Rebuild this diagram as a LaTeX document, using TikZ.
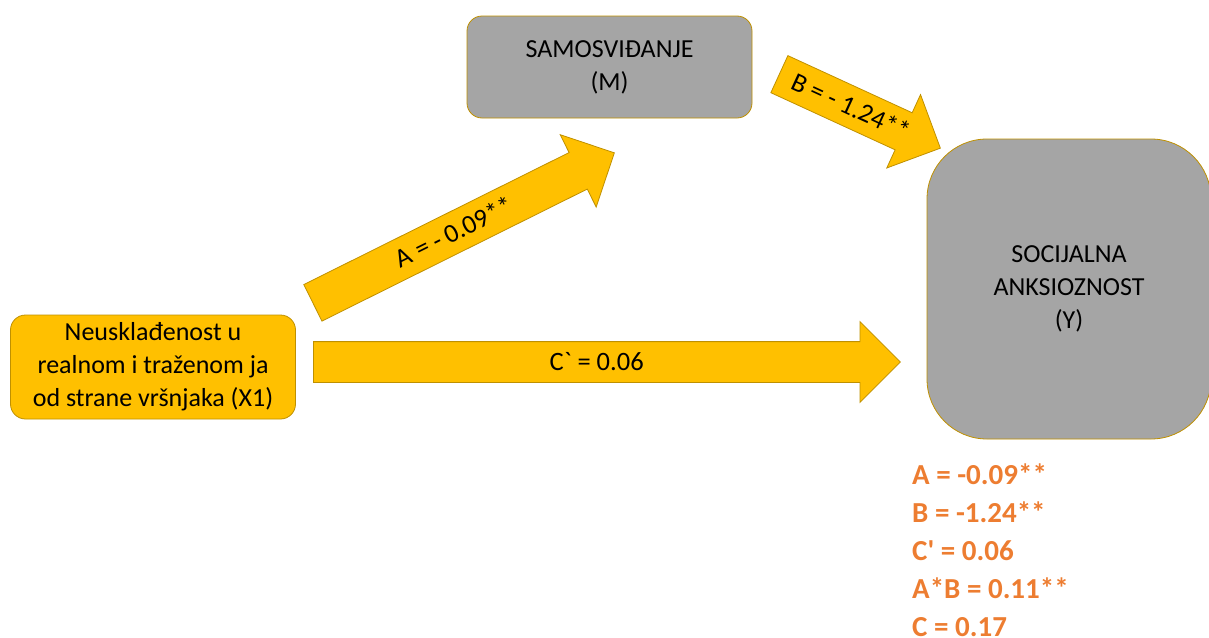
\documentclass[tikz,border=0pt]{standalone}
\usepackage{fontspec}
\setmainfont{Carlito}
\usepackage{xcolor}
\usetikzlibrary{shapes.arrows,calc}

\definecolor{boxgold}{HTML}{FFC000}
\definecolor{edgegold}{HTML}{BF9000}
\definecolor{boxgray}{HTML}{A5A5A5}
\definecolor{noteorange}{HTML}{ED7D31}

\tikzset{
  varbox/.style={draw=edgegold, line width=0.8pt, rounded corners=15pt, align=center,
    inner sep=0pt, font=\fontsize{26}{33}\selectfont},
  fatarrow/.style={single arrow, draw=edgegold, fill=boxgold, line width=0.8pt,
    single arrow head extend=20pt, inner xsep=0pt, inner ysep=0pt,
    text height=28.5pt, text depth=11.5pt, anchor=tail, font=\fontsize{26.5}{30}\selectfont}
}

\begin{document}
\begin{tikzpicture}[x=1pt,y=1pt,yscale=-1,xscale=1]
\useasboundingbox (0,0) rectangle (1209,637);

%Shape: Rounded Rectangle [id:x1]
\node[varbox, fill=boxgold, minimum width=285, minimum height=104] (xone) at (153,367)
  {Neusklađenost u\\realnom i traženom ja\\od strane vršnjaka (X1)};
%Shape: Rounded Rectangle [id:m]
\node[varbox, fill=boxgray, minimum width=285, minimum height=102] (med) at (609.5,67)
  {SAMOSVIĐANJE\\(M)};
%Shape: Rounded Rectangle [id:y]
\node[varbox, fill=boxgray, rounded corners=60pt, minimum width=284, minimum height=300] (yout) at (1069,289)
  {SOCIJALNA\\ANKSIOZNOST\\(Y)};

% arrow ends
\coordinate (aTail) at (312.5,303);
\coordinate (aTip) at (614,153);
\coordinate (bTail) at (779,74);
\coordinate (bTip) at (940,148);
\coordinate (cTail) at (313,362);
\coordinate (cTip) at (900,362);

%Shape: Right Arrow [id:a]
\path let \p1=($(aTip)-(aTail)$), \n1={atan2(\y1,\x1)}, \n2={veclen(\x1,\y1)} in
  node[fatarrow, rotate=-\n1, minimum height=\n2] (arrA) at (aTail) {A = - 0.09**};
%Shape: Right Arrow [id:b]
\path let \p1=($(bTip)-(bTail)$), \n1={atan2(\y1,\x1)}, \n2={veclen(\x1,\y1)} in
  node[fatarrow, rotate=-\n1, minimum height=\n2] (arrB) at (bTail) {B = - 1.24**};
%Shape: Right Arrow [id:c]
\path let \p1=($(cTip)-(cTail)$), \n1={atan2(\y1,\x1)}, \n2={veclen(\x1,\y1)} in
  node[fatarrow, rotate=-\n1, minimum height=\n2] (arrC) at (cTail) {C\textasciigrave{} = 0.06};

% Text Node
\node[anchor=north west, inner sep=0pt, align=left, text=noteorange,
  font=\fontsize{29}{38}\selectfont\bfseries] (note) at (912,464)
  {A = -0.09**\\B = -1.24**\\C\textquotesingle{} = 0.06\\A*B = 0.11**\\C = 0.17};
\end{tikzpicture}
\end{document}
